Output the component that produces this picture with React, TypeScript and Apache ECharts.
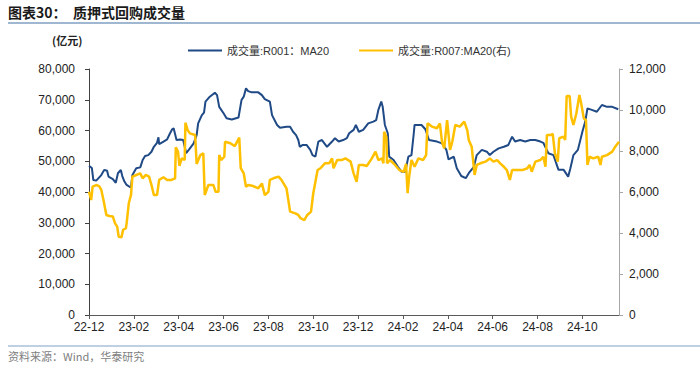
import React, { useEffect, useRef } from "react";
import * as echarts from "echarts";

const tickLabels = ["22-12", "23-02", "23-04", "23-06", "23-08", "23-10", "23-12", "24-02", "24-04", "24-06", "24-08", "24-10"];

const r001Dates = [
  "2022-12-01", "2022-12-05", "2022-12-07", "2022-12-11", "2022-12-18", "2022-12-22", "2022-12-26", "2022-12-28",
  "2023-01-03", "2023-01-07", "2023-01-10", "2023-01-14", "2023-01-16", "2023-01-19", "2023-01-22", "2023-01-26", "2023-01-28", "2023-01-30",
  "2023-02-04", "2023-02-09", "2023-02-12", "2023-02-15", "2023-02-19", "2023-02-23", "2023-02-26",
  "2023-03-02", "2023-03-04", "2023-03-05", "2023-03-11", "2023-03-16", "2023-03-20", "2023-03-23", "2023-03-25", "2023-03-29",
  "2023-04-03", "2023-04-07", "2023-04-11", "2023-04-16", "2023-04-21", "2023-04-25", "2023-04-27",
  "2023-05-02", "2023-05-05", "2023-05-07", "2023-05-13", "2023-05-20", "2023-05-23", "2023-05-26",
  "2023-06-01", "2023-06-05", "2023-06-12", "2023-06-21", "2023-06-25", "2023-06-28",
  "2023-07-01", "2023-07-04", "2023-07-09", "2023-07-18", "2023-07-23", "2023-07-27",
  "2023-08-03", "2023-08-06", "2023-08-13", "2023-08-17", "2023-08-26", "2023-08-31",
  "2023-09-04", "2023-09-08", "2023-09-11", "2023-09-13", "2023-09-17", "2023-09-22", "2023-09-27", "2023-09-30",
  "2023-10-04", "2023-10-08", "2023-10-13", "2023-10-20", "2023-10-27", "2023-10-31",
  "2023-11-05", "2023-11-11", "2023-11-16", "2023-11-19", "2023-11-25", "2023-11-28",
  "2023-12-02", "2023-12-08", "2023-12-15", "2023-12-22", "2023-12-26", "2023-12-29",
  "2024-01-02", "2024-01-04", "2024-01-07", "2024-01-11", "2024-01-13", "2024-01-19", "2024-01-25", "2024-01-30",
  "2024-02-04", "2024-02-08", "2024-02-12", "2024-02-15", "2024-02-16", "2024-02-25",
  "2024-03-01", "2024-03-06", "2024-03-17", "2024-03-24", "2024-03-30",
  "2024-04-02", "2024-04-09", "2024-04-13", "2024-04-19", "2024-04-25", "2024-04-29",
  "2024-05-06", "2024-05-10", "2024-05-17", "2024-05-24", "2024-05-28",
  "2024-06-02", "2024-06-09", "2024-06-16", "2024-06-22", "2024-06-27",
  "2024-07-01", "2024-07-08", "2024-07-15", "2024-07-22", "2024-07-29",
  "2024-08-05", "2024-08-09", "2024-08-16", "2024-08-23", "2024-08-30",
  "2024-09-06", "2024-09-12", "2024-09-15", "2024-09-19", "2024-09-25",
  "2024-10-01", "2024-10-05", "2024-10-08", "2024-10-14", "2024-10-21", "2024-10-28",
  "2024-11-04", "2024-11-11", "2024-11-19",
];
const r001Values = [
  48500, 47800, 43900, 43700, 45500, 47200, 46900, 45000,
  44200, 43000, 46100, 47200, 45200, 43400, 42300, 41700, 41500, 45500,
  47700, 48000, 50400, 51700, 52000, 53100, 54700,
  56000, 57800, 55600, 56400, 57100, 59100, 60400, 60700, 56900,
  57100, 56900, 52600, 54200, 55800, 58500, 62300,
  65000, 65800, 69400, 71000, 72300, 71500, 67700,
  65600, 64000, 63600, 64200, 69900, 71000,
  73700, 72800, 72400, 72400, 71500, 70200,
  69400, 65000, 61800, 60900, 61200, 61200,
  59600, 58500, 56900, 54700, 55300, 55300, 53700, 52000,
  51500, 56400, 56900, 54700, 56400, 57500,
  56400, 56900, 57500, 59100, 60200, 61800,
  59600, 60200, 62300, 62900, 63400, 66700,
  69400, 67700, 61800, 59100, 51500, 50400, 48200, 46600,
  46600, 51500, 52000, 59100, 61800, 61800,
  60400, 56900, 56400, 55800, 53700,
  50600, 51500, 47700, 45200, 44500, 46100,
  48200, 52000, 53700, 53100, 52000,
  53100, 54200, 54700, 55300, 58000,
  56400, 56900, 56400, 56900, 56900,
  56400, 56000, 52600, 52000, 47200,
  47200, 45000, 47700, 52000, 53700,
  59600, 62900, 67200, 66700, 66100, 68300,
  67700, 67700, 66900,
];

const r007Dates = [
  "2022-12-01", "2022-12-04", "2022-12-06", "2022-12-11", "2022-12-15", "2022-12-18", "2022-12-21", "2022-12-25", "2022-12-29",
  "2023-01-03", "2023-01-06", "2023-01-09", "2023-01-11", "2023-01-15", "2023-01-17", "2023-01-21", "2023-01-22", "2023-01-25", "2023-01-28", "2023-01-30",
  "2023-02-04", "2023-02-09", "2023-02-12", "2023-02-16", "2023-02-20", "2023-02-23", "2023-02-26",
  "2023-03-02", "2023-03-05", "2023-03-11", "2023-03-16", "2023-03-22", "2023-03-27", "2023-03-28", "2023-03-31",
  "2023-04-02", "2023-04-05", "2023-04-09", "2023-04-10", "2023-04-13", "2023-04-16", "2023-04-23", "2023-04-25", "2023-04-30",
  "2023-05-04", "2023-05-06", "2023-05-11", "2023-05-18", "2023-05-21", "2023-05-25", "2023-05-26", "2023-05-29",
  "2023-06-02", "2023-06-03", "2023-06-10", "2023-06-16", "2023-06-22", "2023-06-24", "2023-06-28",
  "2023-07-01", "2023-07-04", "2023-07-11", "2023-07-18", "2023-07-23", "2023-07-27",
  "2023-08-01", "2023-08-03", "2023-08-08", "2023-08-15", "2023-08-19", "2023-08-26", "2023-08-31",
  "2023-09-07", "2023-09-11", "2023-09-14", "2023-09-19", "2023-09-23", "2023-09-28",
  "2023-10-01", "2023-10-07", "2023-10-11", "2023-10-17", "2023-10-23", "2023-10-27", "2023-10-29",
  "2023-11-03", "2023-11-09", "2023-11-14", "2023-11-21", "2023-11-25", "2023-11-29",
  "2023-12-02", "2023-12-08", "2023-12-13", "2023-12-20", "2023-12-25", "2023-12-29",
  "2024-01-03", "2024-01-05", "2024-01-06", "2024-01-09", "2024-01-10", "2024-01-14", "2024-01-21", "2024-01-27",
  "2024-02-02", "2024-02-05", "2024-02-07", "2024-02-09", "2024-02-12", "2024-02-16", "2024-02-21", "2024-02-27",
  "2024-03-02", "2024-03-04", "2024-03-10", "2024-03-17", "2024-03-21", "2024-03-24", "2024-03-27", "2024-03-31",
  "2024-04-04", "2024-04-07", "2024-04-11", "2024-04-17", "2024-04-23", "2024-04-27", "2024-04-29",
  "2024-05-03", "2024-05-07", "2024-05-10", "2024-05-15", "2024-05-22", "2024-05-28",
  "2024-06-02", "2024-06-07", "2024-06-11", "2024-06-16", "2024-06-20", "2024-06-24", "2024-06-27",
  "2024-07-01", "2024-07-11", "2024-07-18", "2024-07-21", "2024-07-24", "2024-07-29",
  "2024-08-05", "2024-08-09", "2024-08-12", "2024-08-14", "2024-08-19", "2024-08-22", "2024-08-25", "2024-08-29", "2024-08-31",
  "2024-09-06", "2024-09-08", "2024-09-10", "2024-09-14", "2024-09-16", "2024-09-19", "2024-09-23", "2024-09-27", "2024-09-29",
  "2024-10-03", "2024-10-06", "2024-10-08", "2024-10-11", "2024-10-16", "2024-10-23", "2024-10-26", "2024-10-28",
  "2024-11-04", "2024-11-11", "2024-11-15", "2024-11-20",
];
const r007Values = [
  6010, 5610, 6260, 6340, 6290, 6100, 5610, 4880, 4830,
  4800, 4470, 4310, 3820, 3790, 4150, 4230, 4470, 5450, 5850, 6750,
  6830, 6910, 6670, 6830, 6750, 6340, 5850,
  5850, 6590, 6720, 6590, 6590, 6670, 8180, 7970,
  7270, 7640, 7560, 9380, 9020, 8860, 8780, 7370, 7800,
  7890, 5850, 6340, 6340, 6010, 6010, 7800, 7560,
  7720, 8450, 8380, 8240, 8650, 7160, 6910,
  6260, 6340, 6290, 6180, 6420, 5850,
  6010, 6590, 6670, 6750, 6590, 6180, 5040,
  4960, 4880, 4720, 4630, 4880, 5040,
  5940, 7070, 7160, 7400, 7400, 7640, 7160,
  7560, 7560, 7640, 7480, 6910, 6500,
  7320, 7320, 7270, 7640, 7970, 7560,
  7640, 7400, 8940, 8700, 7400, 7560, 7320, 7070,
  6990, 7370, 5940, 6750, 7560, 7230, 7640, 7560,
  7800, 9350, 9190, 9110, 9350, 8450, 8130, 9510,
  8050, 8450, 9270, 9190, 9430, 9020, 8540,
  8210, 6830, 7320, 7400, 7480, 7640,
  7480, 7560, 7400, 7230, 7070, 6590, 7070,
  7070, 7070, 7160, 7320, 6990, 7480,
  7560, 7720, 7230, 8780, 8780, 8830, 7890, 7480, 8620,
  8700, 8540, 10680, 10680, 9670, 9270, 9840, 10730, 10400,
  9590, 9510, 7320, 7720, 7640, 7720, 7320, 7720,
  7800, 7970, 8210, 8450,
];

// position of a date on the month axis (0 = 2022-12-01)
function monthPos(s: string): number {
  const [y, m, d] = s.split("-").map(Number);
  const dim = new Date(y, m, 0).getDate();
  return (y - 2022) * 12 + (m - 12) + (d - 1) / dim;
}

const fmt = (v: number) => v.toLocaleString("en-US");

export default function App() {
  const ref = useRef<HTMLDivElement>(null);
  useEffect(() => {
    if (!ref.current) return;
    const chart = echarts.init(ref.current, null, { renderer: "svg" });
    const r001Data = r001Dates.map((d, i) => [monthPos(d), r001Values[i]]);
    const r007Data = r007Dates.map((d, i) => [monthPos(d), r007Values[i]]);
    const xMax = monthPos(r007Dates[r007Dates.length - 1]);
    const font = "'Liberation Sans', Arial, 'Noto Sans CJK SC', sans-serif";
    chart.setOption({
      animation: false,
      backgroundColor: "#ffffff",
      textStyle: { fontFamily: font },
      grid: { left: 89, right: 81, top: 69, bottom: 53, containLabel: false },
      legend: {
        left: 188,
        top: 45,
        padding: 0,
        itemGap: 30,
        itemWidth: 34,
        itemHeight: 2,
        icon: "rect",
        textStyle: { fontSize: 11, color: "#333333", fontFamily: font },
        data: ["成交量:R001：MA20", "成交量:R007:MA20(右)"],
      },
      xAxis: {
        type: "value",
        min: 0,
        max: xMax,
        interval: 2,
        splitLine: { show: false },
        axisLine: { show: true, lineStyle: { color: "#595959", width: 1 } },
        axisTick: { show: true, length: 4, lineStyle: { color: "#595959" } },
        axisLabel: {
          fontSize: 12,
          color: "#222222",
          margin: 6,
          showMaxLabel: false,
          formatter: (v: number) => {
            const r = Math.round(v);
            if (Math.abs(v - r) < 1e-6 && r % 2 === 0 && r / 2 < tickLabels.length) return tickLabels[r / 2];
            return "";
          },
        },
      },
      yAxis: [
        {
          type: "value",
          min: 0,
          max: 80000,
          interval: 10000,
          position: "left",
          splitLine: { show: false },
          axisLine: { show: true, lineStyle: { color: "#404040", width: 1 } },
          axisTick: { show: true, length: 4, lineStyle: { color: "#404040" } },
          axisLabel: { fontSize: 12, color: "#222222", margin: 14, formatter: fmt },
        },
        {
          type: "value",
          min: 0,
          max: 12000,
          interval: 2000,
          position: "right",
          splitLine: { show: false },
          axisLine: { show: true, lineStyle: { color: "#a6a6a6", width: 1 } },
          axisTick: { show: true, length: 4, lineStyle: { color: "#a6a6a6" } },
          axisLabel: { fontSize: 12, color: "#222222", margin: 10, formatter: fmt },
        },
      ],
      series: [
        {
          name: "成交量:R001：MA20",
          type: "line",
          yAxisIndex: 0,
          data: r001Data,
          showSymbol: false,
          symbol: "none",
          lineStyle: { color: "#1f4a86", width: 2 },
          itemStyle: { color: "#1f4a86" },
        },
        {
          name: "成交量:R007:MA20(右)",
          type: "line",
          yAxisIndex: 1,
          data: r007Data,
          showSymbol: false,
          symbol: "none",
          lineStyle: { color: "#ffc000", width: 2.5 },
          itemStyle: { color: "#ffc000" },
        },
      ],
      graphic: [
        {
          type: "text",
          left: 8,
          top: 5,
          style: {
            text: "图表30：  质押式回购成交量",
            fontSize: 14,
            fontWeight: "bold",
            fill: "#1a1a1a",
            fontFamily: "'Noto Sans CJK SC', sans-serif",
          },
        },
        {
          type: "line",
          shape: { x1: 8, y1: 23, x2: 700, y2: 23 },
          style: { stroke: "#7f9fc0", lineWidth: 1.5 },
        },
        {
          type: "text",
          left: 52,
          top: 34,
          style: {
            text: "(亿元)",
            fontSize: 11,
            fontWeight: "bold",
            fill: "#222222",
            fontFamily: "'Noto Sans CJK SC', sans-serif",
          },
        },
        {
          type: "line",
          shape: { x1: 8, y1: 346, x2: 700, y2: 346 },
          style: { stroke: "#a9c0d8", lineWidth: 1.5 },
        },
        {
          type: "text",
          left: 8,
          top: 350,
          style: {
            text: "资料来源：Wind，华泰研究",
            fontSize: 11,
            fill: "#808080",
            fontFamily: "'Noto Sans CJK SC', sans-serif",
          },
        },
      ],
    });
    return () => chart.dispose();
  }, []);
  return (
    <div
      ref={ref}
      style={{ position: "fixed", left: 0, top: 0, width: 700, height: 368, background: "#fff" }}
    />
  );
}
